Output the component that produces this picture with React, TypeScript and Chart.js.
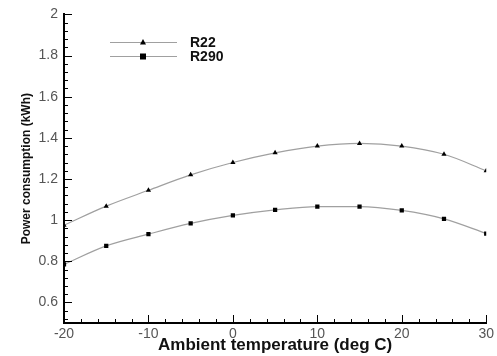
import React, { useEffect, useRef } from "react";
import { Chart, registerables } from "chart.js";

Chart.register(...registerables);

const temps = [-20, -15, -10, -5, 0, 5, 10, 15, 20, 25, 30];
const r22 = [0.975, 1.068, 1.145, 1.22, 1.28, 1.327, 1.36, 1.373, 1.36, 1.32, 1.24];
const r290 = [0.785, 0.875, 0.932, 0.984, 1.023, 1.05, 1.066, 1.066, 1.047, 1.006, 0.935];
const seriesNames = ["R22", "R290"];
const xTitle = "Ambient temperature (deg C)";
const yTitle = "Power consumption (kWh)";

const FONT = "'Liberation Sans', Arial, sans-serif";

const inwardTicks = {
  id: "inwardTicks",
  afterDraw(chart: any) {
    const ctx = chart.ctx;
    const area = chart.chartArea;
    const xs = chart.scales.x;
    const ys = chart.scales.y;
    ctx.save();
    ctx.strokeStyle = "#000";
    ctx.lineWidth = 1;
    xs.ticks.forEach((t: any) => {
      const px = Math.round(xs.getPixelForValue(t.value)) + 0.5;
      const major = Math.abs(t.value % 10) < 1e-6;
      const len = major ? 8 : 4;
      ctx.beginPath();
      ctx.moveTo(px, area.bottom);
      ctx.lineTo(px, area.bottom - len);
      ctx.stroke();
    });
    ys.ticks.forEach((t: any) => {
      const py = Math.round(ys.getPixelForValue(t.value)) + 0.5;
      const r = Math.round(t.value * 100);
      const major = r % 20 === 0;
      const len = major ? 8 : 4;
      ctx.beginPath();
      ctx.moveTo(area.left, py);
      ctx.lineTo(area.left + len, py);
      ctx.stroke();
    });
    // legend
    const items = [
      { name: seriesNames[0], style: "triangle", y: 42 },
      { name: seriesNames[1], style: "rect", y: 56 },
    ];
    items.forEach((it) => {
      ctx.strokeStyle = "#a0a0a0";
      ctx.lineWidth = 1;
      ctx.beginPath();
      ctx.moveTo(110, it.y + 0.5);
      ctx.lineTo(177, it.y + 0.5);
      ctx.stroke();
      ctx.fillStyle = "#000";
      if (it.style === "triangle") {
        ctx.beginPath();
        ctx.moveTo(143, it.y - 3);
        ctx.lineTo(146, it.y + 2.5);
        ctx.lineTo(140, it.y + 2.5);
        ctx.closePath();
        ctx.fill();
      } else {
        ctx.fillRect(140, it.y - 2.5, 6, 6);
      }
      ctx.fillStyle = "#111";
      ctx.font = `bold 14px ${FONT}`;
      ctx.textBaseline = "middle";
      ctx.textAlign = "left";
      ctx.fillText(it.name, 190, it.y + 1);
    });
    ctx.restore();
  },
};

export default function App() {
  const ref = useRef<HTMLCanvasElement | null>(null);
  useEffect(() => {
    if (!ref.current) return;
    const chart = new Chart(ref.current, {
      type: "line",
      data: {
        labels: temps,
        datasets: [
          {
            label: seriesNames[0],
            data: temps.map((t, i) => ({ x: t, y: r22[i] })),
            borderColor: "#a0a0a0",
            borderWidth: 1.2,
            backgroundColor: "#000",
            pointBackgroundColor: "#000",
            pointBorderColor: "#000",
            pointStyle: "triangle",
            pointRadius: 3,
            pointBorderWidth: 0,
            tension: 0.4,
            cubicInterpolationMode: "monotone",
          },
          {
            label: seriesNames[1],
            data: temps.map((t, i) => ({ x: t, y: r290[i] })),
            borderColor: "#a0a0a0",
            borderWidth: 1.2,
            backgroundColor: "#000",
            pointBackgroundColor: "#000",
            pointBorderColor: "#000",
            pointStyle: "rect",
            pointRadius: 3,
            pointBorderWidth: 0,
            tension: 0.4,
            cubicInterpolationMode: "monotone",
          },
        ],
      },
      options: {
        animation: false,
        responsive: true,
        maintainAspectRatio: false,
        layout: { padding: { top: 14, right: 10, left: 0, bottom: 0 } },
        plugins: { legend: { display: false }, tooltip: { enabled: false } },
        scales: {
          x: {
            type: "linear",
            min: -20,
            max: 30,
            afterBuildTicks(scale: any) {
              const arr = [];
              for (let v = -20; v <= 30; v += 2) arr.push({ value: v });
              for (let v = -20; v <= 30; v += 10) if (!arr.find((a) => a.value === v)) arr.push({ value: v });
              arr.sort((a, b) => a.value - b.value);
              scale.ticks = arr;
            },
            afterFit(scale: any) {
              scale.height = 33;
            },
            grid: { display: false, drawTicks: false },
            border: { display: true, color: "#000", width: 2 },
            ticks: {
              autoSkip: false,
              maxRotation: 0,
              padding: 3,
              color: "#555",
              font: { family: FONT, size: 14 },
              callback: (v: any) => (Math.abs(Number(v) % 10) < 1e-6 ? String(v) : ""),
            },
            title: {
              display: true,
              text: xTitle,
              color: "#111",
              font: { family: FONT, size: 17, weight: "bold" },
              padding: { top: -4, bottom: 0 },
            },
          },
          y: {
            type: "linear",
            min: 0.5,
            max: 2,
            afterBuildTicks(scale: any) {
              const arr = [];
              for (let k = 0; k <= 37; k++) {
                const v = Math.round((0.52 + k * 0.04) * 100) / 100;
                if (v <= 2.0001) arr.push({ value: v });
              }
              scale.ticks = arr;
            },
            afterFit(scale: any) {
              scale.width = 64;
            },
            grid: { display: false, drawTicks: false },
            border: { display: true, color: "#000", width: 2 },
            ticks: {
              autoSkip: false,
              padding: 6,
              color: "#555",
              font: { family: FONT, size: 14 },
              callback: (v: any) => {
                const r = Math.round(Number(v) * 100);
                return r % 20 === 0 ? String(r / 100) : "";
              },
            },
            title: {
              display: true,
              text: yTitle,
              color: "#111",
              font: { family: FONT, size: 12, weight: "bold" },
              padding: { top: 19, bottom: 0 },
            },
          },
        },
      },
      plugins: [inwardTicks],
    } as any);
    return () => chart.destroy();
  }, []);
  return (
    <div style={{ position: "fixed", left: 0, top: 0, width: 497, height: 356, background: "#fff" }}>
      <canvas ref={ref} />
    </div>
  );
}
